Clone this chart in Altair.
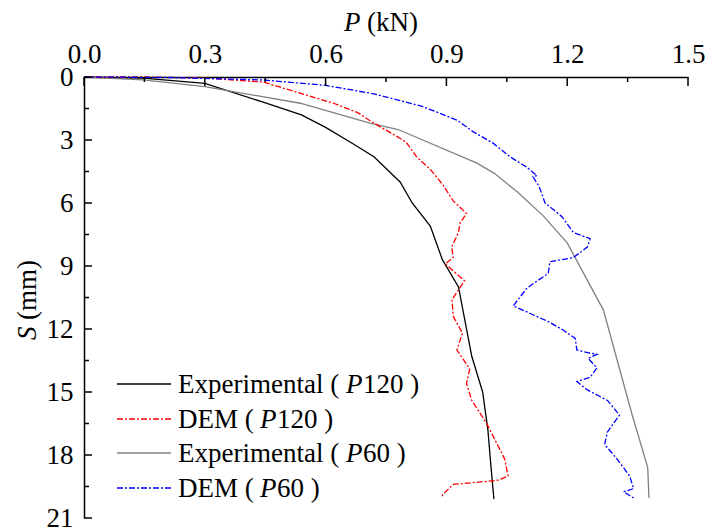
import altair as alt
import pandas as pd

# ---------------- data ----------------
exp120_P = [0, 0.147, 0.30, 0.445, 0.54, 0.60, 0.67, 0.72, 0.785, 0.815, 0.86, 0.89, 0.93, 0.963, 0.99, 1.003, 1.01, 1.018]
exp120_S = [0, 0.05, 0.30, 1.20, 1.80, 2.40, 3.20, 3.80, 5.00, 6.00, 7.10, 8.70, 10.0, 13.3, 15.0, 16.8, 18.4, 20.1]

exp60_P = [0, 0.147, 0.30, 0.537, 0.71, 0.78, 0.976, 1.02, 1.078, 1.14, 1.20, 1.29, 1.36, 1.40, 1.403]
exp60_S = [0, 0.14, 0.46, 1.25, 2.20, 2.50, 4.10, 4.60, 5.50, 6.60, 7.90, 11.1, 16.0, 18.6, 20.05]

dem120_P = [0, 0.15, 0.30, 0.445, 0.55, 0.62, 0.68, 0.72, 0.77, 0.80,
            0.826, 0.86, 0.89, 0.917, 0.95, 0.934, 0.93, 0.913, 0.917, 0.897,
            0.945, 0.914, 0.917, 0.94, 0.926, 0.958, 0.95, 0.963, 1.0, 1.016,
            1.045, 1.053, 1.03, 0.975, 0.917, 0.89, 0.89]
dem120_S = [0, 0.0, 0.05, 0.24, 0.85, 1.25, 1.7, 2.2, 2.75, 3.1,
            3.8, 4.4, 5.1, 5.9, 6.5, 6.95, 7.4, 8.1, 8.6, 8.9,
            9.7, 10.6, 11.4, 12.2, 13.0, 13.9, 14.6, 15.4, 16.5, 17.1,
            18.2, 19.0, 19.2, 19.3, 19.4, 19.9, 20.05]

dem60_P = [0, 0.2, 0.445, 0.6, 0.72, 0.84, 0.926, 0.966, 1.016, 1.058,
           1.10, 1.125, 1.115, 1.13, 1.145, 1.187, 1.215, 1.257, 1.25, 1.215,
           1.157, 1.153, 1.10, 1.066, 1.107, 1.153, 1.19, 1.22, 1.224, 1.257,
           1.274, 1.252, 1.274, 1.257, 1.224, 1.25, 1.30, 1.33, 1.315, 1.30,
           1.293, 1.32, 1.34, 1.355, 1.365, 1.34, 1.365]
dem60_S = [0, 0.02, 0.14, 0.4, 0.8, 1.4, 2.05, 2.6, 3.15, 3.8,
           4.3, 4.7, 4.75, 5.2, 6.0, 6.65, 7.4, 7.7, 8.1, 8.6,
           8.8, 9.35, 10.05, 10.9, 11.25, 11.65, 12.05, 12.45, 13.0, 13.15,
           13.2, 13.4, 13.85, 14.3, 14.5, 14.9, 15.4, 16.1, 16.5, 16.9,
           17.5, 18.1, 18.6, 19.0, 19.6, 19.75, 20.05]

x_major = [0.0, 0.3, 0.6, 0.9, 1.2, 1.5]
x_minor = [0.15, 0.45, 0.75, 1.05, 1.35]
y_major = [0, 3, 6, 9, 12, 15, 18, 21]
y_minor = [1.5, 4.5, 7.5, 10.5, 13.5, 16.5, 19.5]

# ---------------- styling ----------------
FONT = "Liberation Serif"
FS = 27
W, H = 604, 441
xscale = alt.Scale(domain=[0, 1.5], nice=False, zero=False)
yscale = alt.Scale(domain=[0, 21], nice=False, zero=False, reverse=True)

x_axis = alt.Axis(orient="top", values=x_major, format=".1f", ticks=False,
                  labelFont=FONT, labelFontSize=FS, labelColor="black",
                  labelPadding=9, labelFlush=False, labelOverlap=False,
                  domainColor="black", domainWidth=1.5, grid=False, title=None)
y_axis = alt.Axis(orient="left", values=y_major, format="d", ticks=False,
                  labelFont=FONT, labelFontSize=FS, labelColor="black",
                  labelPadding=11, labelFlush=False, labelOverlap=False,
                  domainColor="black", domainWidth=1.5, grid=False, title=None)


def line_layer(p, s, color, dash=None, width=1.3):
    df = pd.DataFrame({"P": p, "S": s, "i": list(range(len(p)))})
    kw = dict(color=color, strokeWidth=width, clip=False)
    if dash:
        kw["strokeDash"] = dash
    return alt.Chart(df).mark_line(**kw).encode(
        x=alt.X("P:Q", scale=xscale, axis=x_axis),
        y=alt.Y("S:Q", scale=yscale, axis=y_axis),
        order="i:Q",
    )


def xtick_layer(vals, length):
    df = pd.DataFrame({"v": vals})
    return alt.Chart(df).mark_rule(color="black", strokeWidth=1.5).encode(
        x=alt.X("v:Q", scale=xscale, axis=x_axis),
        y=alt.value(0), y2=alt.value(length))


def ytick_layer(vals, length):
    df = pd.DataFrame({"v": vals})
    return alt.Chart(df).mark_rule(color="black", strokeWidth=1.5).encode(
        y=alt.Y("v:Q", scale=yscale, axis=y_axis),
        x=alt.value(0), x2=alt.value(length))


DASH = [6, 2, 2, 2]

lines = [
    line_layer(exp120_P, exp120_S, "black"),
    line_layer(exp60_P, exp60_S, "#808080"),
    line_layer(dem120_P, dem120_S, "#ff0000", DASH),
    line_layer(dem60_P, dem60_S, "#0000ff", DASH),
]

ticks = [xtick_layer(x_major, 9), xtick_layer(x_minor, 5),
         ytick_layer(y_major, 8), ytick_layer(y_minor, 5)]

# ---------------- legend (manual, to allow italic P) ----------------
leg_rows = [
    ("black", None, 307),
    ("#ff0000", DASH, 342),
    ("#808080", None, 376),
    ("#0000ff", DASH, 411),
]
legend_lines = []
for col, dash, yy in leg_rows:
    kw = dict(color=col, strokeWidth=1.3)
    if dash:
        kw["strokeDash"] = dash
    legend_lines.append(
        alt.Chart(pd.DataFrame({"y": [yy]})).mark_rule(**kw).encode(
            y=alt.Y("y:Q", scale=None), x=alt.value(33), x2=alt.value(87)))

norm_txt = pd.DataFrame({
    "t": ["Experimental (", "120 )",
          "DEM (", "120 )",
          "Experimental (", "60 )",
          "DEM (", "60 )"],
    "x": [94, 279, 94, 193, 94, 279, 94, 193],
    "y": [316, 316, 351, 351, 385, 385, 420, 420],
})
ital_txt = pd.DataFrame({"t": ["P", "P", "P", "P"],
                         "x": [262, 176, 262, 176],
                         "y": [316, 351, 385, 420]})


def text_layer(df, style, size=FS, angle=0):
    kw = dict(font=FONT, fontSize=size, align="left", baseline="alphabetic",
              color="black", fontStyle=style)
    if angle:
        kw["angle"] = angle
    return alt.Chart(df).mark_text(**kw).encode(
        x=alt.X("x:Q", scale=None), y=alt.Y("y:Q", scale=None), text="t:N")


legend_text = [text_layer(norm_txt, "normal"), text_layer(ital_txt, "italic")]

# ---------------- axis titles (italic symbols) ----------------
xt_it = pd.DataFrame({"t": ["P"], "x": [260], "y": [-46]})
xt_no = pd.DataFrame({"t": ["(kN)"], "x": [283], "y": [-46]})
yt_it = pd.DataFrame({"t": ["S"], "x": [-48], "y": [263]})
yt_no = pd.DataFrame({"t": ["(mm)"], "x": [-48], "y": [243]})
titles = [text_layer(xt_it, "italic"), text_layer(xt_no, "normal"),
          text_layer(yt_it, "italic", FS, 270), text_layer(yt_no, "normal", FS, 270)]

chart = alt.layer(*lines, *ticks, *legend_lines, *legend_text, *titles).properties(
    width=W, height=H,
    autosize=alt.AutoSizeParams(type="none"),
    padding={"left": 84, "top": 77, "right": 17, "bottom": 11},
    background="white",
).configure_view(stroke=None)

chart.save("out.html", embed_options={"renderer": "svg", "actions": False})
